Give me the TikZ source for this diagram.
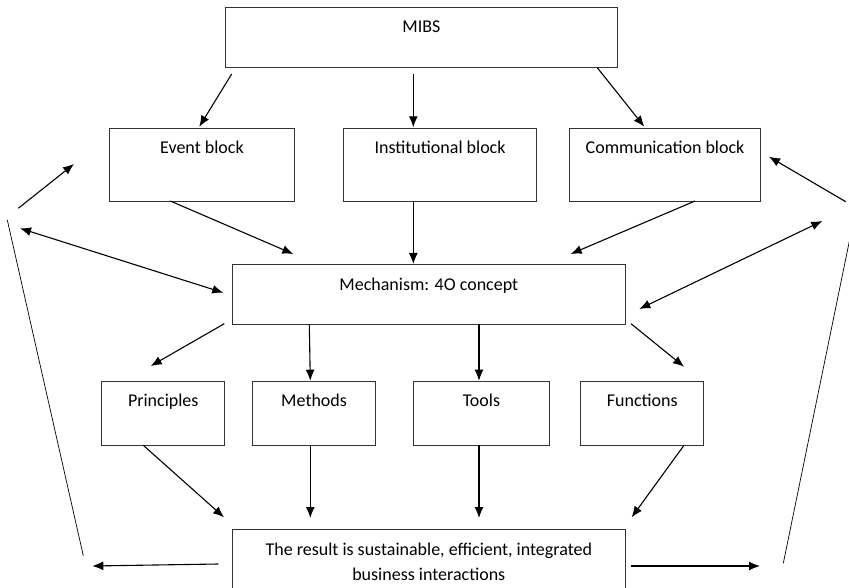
\documentclass[tikz,border=0pt]{standalone}
\usepackage{fontspec}
\setmainfont{Carlito}
\usetikzlibrary{arrows.meta}
\begin{document}
\begin{tikzpicture}[x=1pt,y=-1pt,
  box/.style={draw=black!80,line width=0.9pt,anchor=north west,inner sep=0pt},
  txt/.style={anchor=base,inner sep=0pt,font=\fontsize{18}{22}\selectfont,text=black},
  arr/.style={line width=1.1pt,-{Latex[length=11pt,width=9pt]}},
  dbl/.style={line width=1.1pt,{Latex[length=11pt,width=9pt]}-{Latex[length=11pt,width=9pt]}},
  side/.style={line width=0.7pt}]
\useasboundingbox (0,0) rectangle (849,588);
% boxes
\node[box,minimum width=392.6pt,minimum height=59.4pt] (mibs) at (224.7,7.3) {};
\node[box,minimum width=185pt,minimum height=73.3pt] (ev) at (109,127.7) {};
\node[box,minimum width=192.7pt,minimum height=73.3pt] (inst) at (343.3,127.7) {};
\node[box,minimum width=191.3pt,minimum height=73.3pt] (comm) at (569,127.7) {};
\node[box,minimum width=393.3pt,minimum height=59.4pt] (mech) at (231.7,264.3) {};
\node[box,minimum width=123pt,minimum height=64.6pt] (prin) at (101.3,380.7) {};
\node[box,minimum width=123.3pt,minimum height=64.6pt] (meth) at (252,380.7) {};
\node[box,minimum width=136pt,minimum height=64.6pt] (tools) at (413,380.7) {};
\node[box,minimum width=123pt,minimum height=64.6pt] (func) at (580.3,380.7) {};
\node[box,minimum width=393.3pt,minimum height=62pt] (res) at (231.7,529.3) {};
% texts
\node[txt] (tmibs) at ([yshift=-25pt]mibs.north) {MIBS};
\node[txt] (tev) at ([yshift=-26pt]ev.north) {Event block};
\node[txt] (tinst) at ([yshift=-26pt]inst.north) {Institutional block};
\node[txt] (tcomm) at ([yshift=-26pt]comm.north) {Communication block};
\node[txt] (tmech) at ([yshift=-25.8pt]mech.north) {Mechanism: 4O concept};
\node[txt] (tprin) at ([yshift=-26pt]prin.north) {Principles};
\node[txt] (tmeth) at ([yshift=-26pt]meth.north) {Methods};
\node[txt] (ttools) at ([yshift=-26pt]tools.north) {Tools};
\node[txt] (tfunc) at ([yshift=-26pt]func.north) {Functions};
\node[txt] (tres1) at ([yshift=-25.7pt]res.north) {The result is sustainable, efficient, integrated};
\node[txt] (tres2) at ([yshift=-50.7pt]res.north) {business interactions};
% connector end points
\coordinate (a1s) at (231.7,74);   \coordinate (a1e) at (199.3,126.7);
\coordinate (a2s) at (413.3,74);   \coordinate (a2e) at (413.3,127.3);
\coordinate (a3s) at (597.3,67.7); \coordinate (a3e) at (644.3,126.7);
\coordinate (a4s) at (170.3,201);  \coordinate (a4e) at (293.3,254);
\coordinate (a5s) at (413.3,201);  \coordinate (a5e) at (413.3,264);
\coordinate (a6s) at (695,201);    \coordinate (a6e) at (570.7,254);
\coordinate (l1) at (20,228.3);    \coordinate (l2) at (223.3,292.7);
\coordinate (l3) at (18.3,208.3);  \coordinate (l4) at (74,164);
\coordinate (l5) at (7.3,220);     \coordinate (l6) at (83.3,555.7);
\coordinate (l7) at (218.3,564);   \coordinate (l8) at (92.3,566);
\coordinate (r1) at (639.3,309);   \coordinate (r2) at (822.3,221);
\coordinate (r3) at (845.7,201.7); \coordinate (r4) at (769,156.7);
\coordinate (r5) at (850,238);     \coordinate (r6) at (783.3,563.3);
\coordinate (r7) at (631,566);     \coordinate (r8) at (760,566);
\coordinate (b1s) at (224.3,323.7); \coordinate (b1e) at (150.7,366);
\coordinate (b2s) at (309.3,324.3); \coordinate (b2e) at (310.3,380.7);
\coordinate (b3s) at (479,324);     \coordinate (b3e) at (479,380.7);
\coordinate (b4s) at (631,323.7);   \coordinate (b4e) at (684,366.7);
\coordinate (c1s) at (143.3,445.3); \coordinate (c1e) at (224,517.3);
\coordinate (c2s) at (310.3,445.3); \coordinate (c2e) at (310.3,518);
\coordinate (c3s) at (479,445.3);   \coordinate (c3e) at (479,518);
\coordinate (c4s) at (684,445.3);   \coordinate (c4e) at (631.7,517.3);
% connectors
\draw[arr] (a1s) -- (a1e);
\draw[arr] (a2s) -- (a2e);
\draw[arr] (a3s) -- (a3e);
\draw[arr] (a4s) -- (a4e);
\draw[arr] (a5s) -- (a5e);
\draw[arr] (a6s) -- (a6e);
\draw[dbl] (l1) -- (l2);
\draw[arr] (l3) -- (l4);
\draw[side] (l5) -- (l6);
\draw[arr] (l7) -- (l8);
\draw[dbl] (r1) -- (r2);
\draw[arr] (r3) -- (r4);
\draw[side] (r5) -- (r6);
\draw[arr] (r7) -- (r8);
\draw[arr] (b1s) -- (b1e);
\draw[arr] (b2s) -- (b2e);
\draw[arr] (b3s) -- (b3e);
\draw[arr] (b4s) -- (b4e);
\draw[arr] (c1s) -- (c1e);
\draw[arr] (c2s) -- (c2e);
\draw[arr] (c3s) -- (c3e);
\draw[arr] (c4s) -- (c4e);
\end{tikzpicture}
\end{document}
